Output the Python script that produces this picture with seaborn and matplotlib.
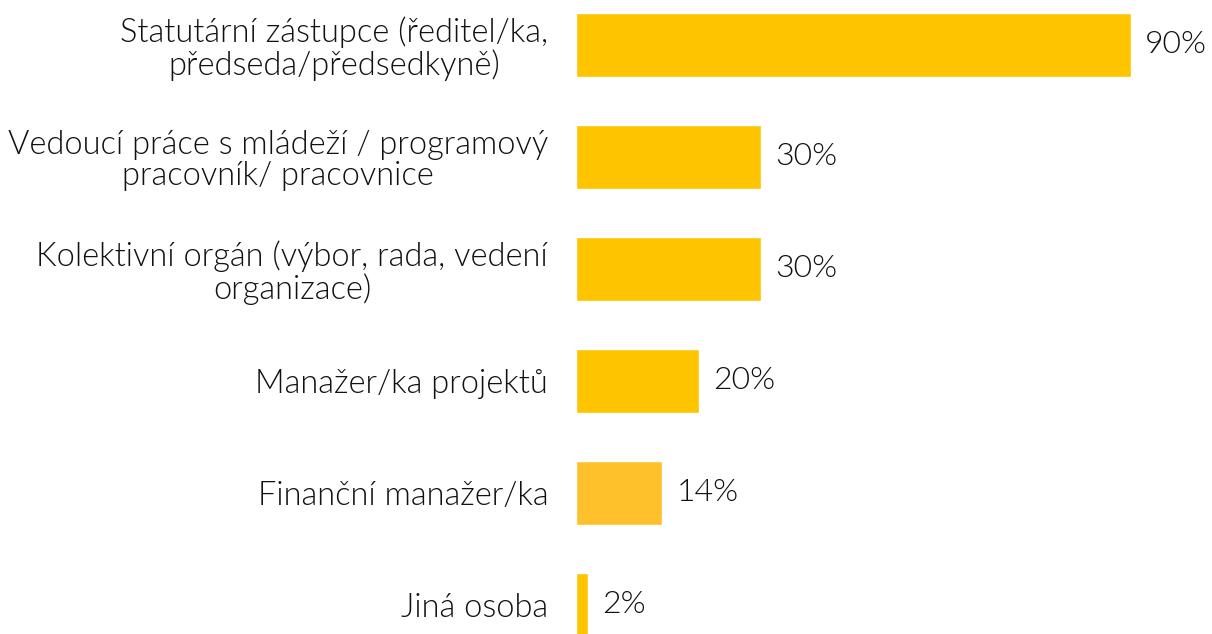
import matplotlib
matplotlib.use("Agg")
import matplotlib.pyplot as plt
import seaborn as sns

categories = [
    "Statutární zástupce (ředitel/ka,\npředseda/předsedkyně)",
    "Vedoucí práce s mládeží / programový\npracovník/ pracovnice",
    "Kolektivní orgán (výbor, rada, vedení\norganizace)",
    "Manažer/ka projektů",
    "Finanční manažer/ka",
    "Jiná osoba",
]
values = [90, 30, 30, 20, 14, 2]
bar_colors = ["#FFC400", "#FFC400", "#FFC400", "#FFC400", "#FFC12B", "#FFC400"]

sns.set_style("white")
plt.rcParams["font.family"] = ["Lato", "DejaVu Sans"]
plt.rcParams["font.weight"] = 300

fig = plt.figure(figsize=(12.12, 6.34), dpi=100)
ax = fig.add_axes([576 / 1212, 0, 617 / 1212, 1])

sns.barplot(x=values, y=categories, hue=categories, palette=bar_colors,
            legend=False, width=0.57, saturation=1, ax=ax)

ax.set_xlim(0, 100)
ax.set_ylim(5.26, -0.40)
for c in ax.containers:
    ax.bar_label(c, fmt="%d%%", padding=10, fontsize=23, color="#111111")

ax.set_xticks([])
ax.set_xlabel("")
ax.set_ylabel("")
ax.tick_params(axis="y", length=0, pad=20, labelsize=23.5, labelcolor="#111111")
for lab in ax.get_yticklabels():
    lab.set_multialignment("center")
    lab.set_linespacing(1.05)
sns.despine(left=True, bottom=True)

fig.savefig("out.png", dpi=100)
